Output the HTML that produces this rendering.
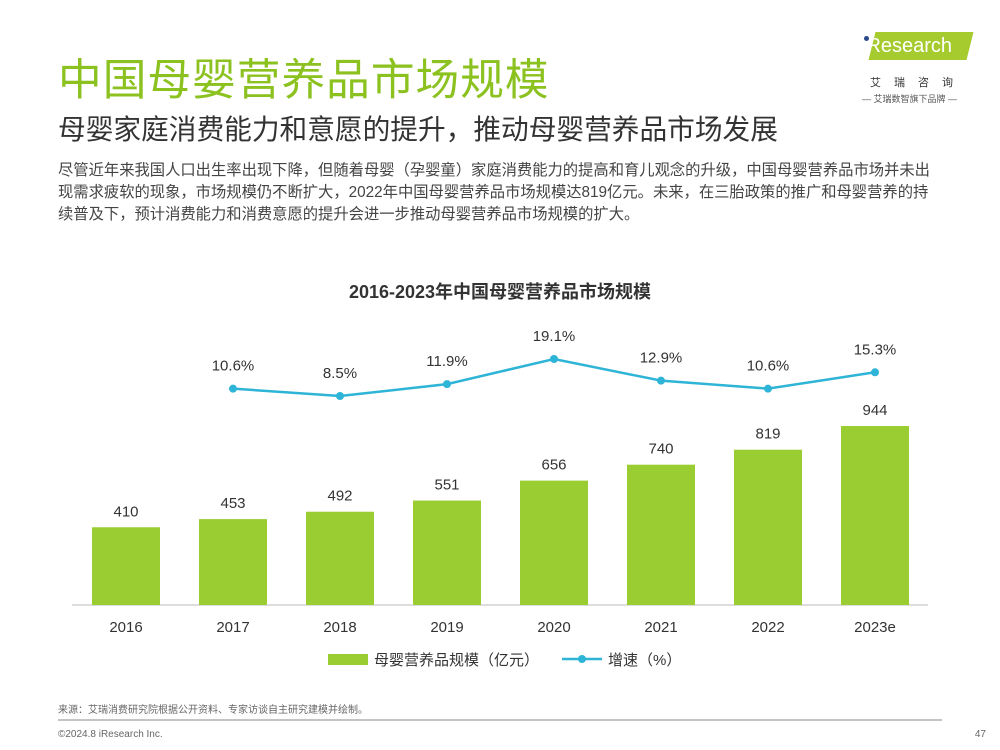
<!DOCTYPE html>
<html><head><meta charset="utf-8"><style>
body{margin:0;width:1000px;height:750px;background:#fff;position:relative;overflow:hidden;font-family:"Liberation Sans","Noto Sans CJK SC",sans-serif;}
.a{position:absolute;margin:0;white-space:nowrap}
</style></head><body>
<div class="a" style="left:58px;top:44px;font-size:43.7px;color:#8cc220;letter-spacing:1px">中国母婴营养品市场规模</div>
<div class="a" style="left:58px;top:107px;font-size:27.7px;color:#333">母婴家庭消费能力和意愿的提升，推动母婴营养品市场发展</div>
<div class="a" style="left:58px;top:160px;font-size:15.3px;line-height:22px;color:#444;white-space:normal;width:884px">尽管近年来我国人口出生率出现下降，但随着母婴（孕婴童）家庭消费能力的提高和育儿观念的升级，中国母婴营养品市场并未出现需求疲软的现象，市场规模仍不断扩大，2022年中国母婴营养品市场规模达819亿元。未来，在三胎政策的推广和母婴营养的持续普及下，预计消费能力和消费意愿的提升会进一步推动母婴营养品市场规模的扩大。</div>
<div class="a" style="left:858px;top:30px;width:120px;height:80px">
<div style="position:absolute;left:14px;top:2px;width:98px;height:28px;background:#a6cb2e;transform:skewX(-14deg)"></div>
<div style="position:absolute;left:4px;top:5px;font-size:20px;color:#fff">iResearch</div>
<div style="position:absolute;left:6px;top:6px;width:5px;height:5px;border-radius:50%;background:#2a4a8a"></div>
<div style="position:absolute;left:12px;top:44px;font-size:11px;color:#333;letter-spacing:13px">艾瑞咨询</div>
<div style="position:absolute;left:4px;top:62px;font-size:9px;color:#555">— 艾瑞数智旗下品牌 —</div>
</div>
<svg class="a" style="left:0;top:0" width="1000" height="750">
<text x="500" y="298" text-anchor="middle" font-size="18" font-weight="bold" fill="#333">2016-2023年中国母婴营养品市场规模</text>
<line x1="72" y1="605" x2="928" y2="605" stroke="#bbb"/>
<g id="bars"></g><g id="line"></g>
<rect x="328" y="654" width="40" height="11" fill="#9acd32"/>
<text x="374" y="665" font-size="15" fill="#333">母婴营养品规模（亿元）</text>
<line x1="562" y1="659" x2="602" y2="659" stroke="#2db4d6" stroke-width="2.5"/>
<circle cx="582" cy="659" r="4" fill="#2db4d6"/>
<text x="608" y="665" font-size="15" fill="#333">增速（%）</text>
<text x="58" y="713" font-size="10" fill="#666">来源：艾瑞消费研究院根据公开资料、专家访谈自主研究建模并绘制。</text>
<line x1="58" y1="720" x2="942" y2="720" stroke="#888"/>
<text x="58" y="737" font-size="10" fill="#666">©2024.8 iResearch Inc.</text>
<text x="986" y="737" font-size="10" fill="#666" text-anchor="end">47</text>
</svg>
<script>
const categories=["2016","2017","2018","2019","2020","2021","2022","2023e"];
const sizeValues=[410,453,492,551,656,740,819,944];
const growthValues=[null,10.6,8.5,11.9,19.1,12.9,10.6,15.3];
const growthLabels=["","10.6%","8.5%","11.9%","19.1%","12.9%","10.6%","15.3%"];
const NS="http://www.w3.org/2000/svg";
const xC=i=>126+i*107;
const yBar=v=>605-v*0.1896;
const yPct=v=>396-(v-8.5)*3.49;
const bars=document.getElementById('bars'),lg=document.getElementById('line');
function mk(t,a,p){const e=document.createElementNS(NS,t);for(const k in a)e.setAttribute(k,a[k]);p.appendChild(e);return e;}
categories.forEach((c,i)=>{
 const r=mk('rect',{x:xC(i)-34,y:yBar(sizeValues[i]),width:68,height:605-yBar(sizeValues[i]),fill:'#9acd32'},bars);
 
 
 const t=mk('text',{x:xC(i),y:yBar(sizeValues[i])-11,'text-anchor':'middle','font-size':15,fill:'#333'},bars);t.textContent=sizeValues[i];
 
 
 const x=mk('text',{x:xC(i),y:632,'text-anchor':'middle','font-size':15,fill:'#333'},bars);x.textContent=c;
 
 
});
let pts=[];growthValues.forEach((v,i)=>{if(v!=null)pts.push(xC(i)+','+yPct(v));});
const pl=mk('polyline',{points:pts.join(' '),fill:'none',stroke:'#2db4d6','stroke-width':2.5},lg);


growthValues.forEach((v,i)=>{if(v==null)return;
 const c=mk('circle',{cx:xC(i),cy:yPct(v),r:4,fill:'#2db4d6'},lg);
 
 
 const t=mk('text',{x:xC(i),y:yPct(v)-18,'text-anchor':'middle','font-size':15,fill:'#333'},lg);t.textContent=growthLabels[i];
 
 
});
</script>
</body></html>
